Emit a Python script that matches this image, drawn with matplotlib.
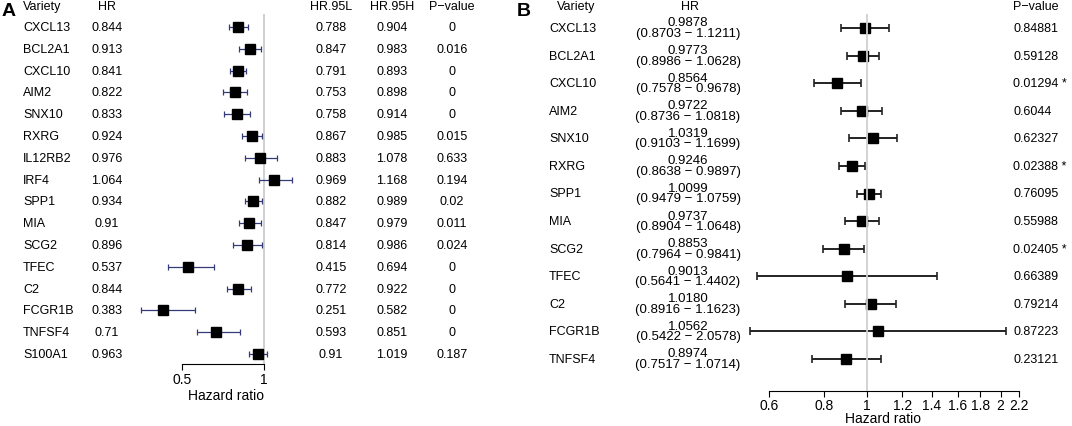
import numpy as np
import matplotlib
matplotlib.use('Agg')
import matplotlib.pyplot as plt
from matplotlib import transforms

plt.rcParams['font.family'] = ['Liberation Sans', 'DejaVu Sans']

# panel A: univariate cox
genes_a = ['CXCL13', 'BCL2A1', 'CXCL10', 'AIM2', 'SNX10', 'RXRG', 'IL12RB2', 'IRF4',
           'SPP1', 'MIA', 'SCG2', 'TFEC', 'C2', 'FCGR1B', 'TNFSF4', 'S100A1']
hr_a = [0.844, 0.913, 0.841, 0.822, 0.833, 0.924, 0.976, 1.064,
        0.934, 0.91, 0.896, 0.537, 0.844, 0.383, 0.71, 0.963]
lo_a = [0.788, 0.847, 0.791, 0.753, 0.758, 0.867, 0.883, 0.969,
        0.882, 0.847, 0.814, 0.415, 0.772, 0.251, 0.593, 0.91]
hi_a = [0.904, 0.983, 0.893, 0.898, 0.914, 0.985, 1.078, 1.168,
        0.989, 0.979, 0.986, 0.694, 0.922, 0.582, 0.851, 1.019]
p_a = ['0', '0.016', '0', '0', '0', '0.015', '0.633', '0.194',
       '0.02', '0.011', '0.024', '0', '0', '0', '0', '0.187']

# panel B: multivariate cox
genes_b = ['CXCL13', 'BCL2A1', 'CXCL10', 'AIM2', 'SNX10', 'RXRG', 'SPP1',
           'MIA', 'SCG2', 'TFEC', 'C2', 'FCGR1B', 'TNFSF4']
hr_b = [0.9878, 0.9773, 0.8564, 0.9722, 1.0319, 0.9246, 1.0099,
        0.9737, 0.8853, 0.9013, 1.0180, 1.0562, 0.8974]
lo_b = [0.8703, 0.8986, 0.7578, 0.8736, 0.9103, 0.8638, 0.9479,
        0.8904, 0.7964, 0.5641, 0.8916, 0.5422, 0.7517]
hi_b = [1.1211, 1.0628, 0.9678, 1.0818, 1.1699, 0.9897, 1.0759,
        1.0648, 0.9841, 1.4402, 1.1623, 2.0578, 1.0714]
p_b = ['0.84881', '0.59128', '0.01294 *', '0.6044', '0.62327', '0.02388 *', '0.76095',
       '0.55988', '0.02405 *', '0.66389', '0.79214', '0.87223', '0.23121']
ticks_b = [0.6, 0.8, 1, 1.2, 1.4, 1.6, 1.8, 2, 2.2]

W, H = 1072, 427
fig = plt.figure(figsize=(W / 100, H / 100), dpi=100)


def px_axes(left, top, right, bottom):
    return fig.add_axes([left / W, 1 - bottom / H, (right - left) / W, (bottom - top) / H])


def clean(ax):
    for s in ['left', 'top', 'right']:
        ax.spines[s].set_visible(False)
    ax.set_yticks([])
    ax.tick_params(axis='x', length=4, width=0.8, pad=2, labelsize=10)
    ax.minorticks_off()
    ax.patch.set_alpha(0)


# ---- A ----
axA = px_axes(140, 15, 300, 365)
axA.set_xlim(0.5 + (140 - 182) / 164, 0.5 + (300 - 182) / 164)
axA.set_ylim((365 - 28) / 21.8, (15 - 28) / 21.8)
ya = np.arange(len(genes_a))
hr = np.array(hr_a)
axA.axvline(1, color='#c8c8c8', lw=1.2, zorder=0)
eb = axA.errorbar(hr, ya, xerr=[hr - np.array(lo_a), np.array(hi_a) - hr], fmt='none',
                  ecolor='#353a78', elinewidth=0.9, capsize=2, capthick=0.9)
for art in eb.get_children():
    art.set_clip_on(False)
axA.plot(hr, ya, 's', color='black', ms=6.5, clip_on=False, zorder=3)
clean(axA)
axA.spines['bottom'].set_bounds(0.5, 1)
axA.set_xticks([0.5, 1])
axA.set_xticklabels(['0.5', '1'])
axA.set_xlabel('Hazard ratio', fontsize=10, labelpad=1)
axA.xaxis.label.set_x((226 - 140) / 160)

trA = transforms.blended_transform_factory(fig.transFigure, axA.transData)
hy = (7 - 28) / 21.8
fs = 9
axA.text(23 / W, hy, 'Variety', transform=trA, ha='left', va='center', fontsize=fs)
axA.text(107 / W, hy, 'HR', transform=trA, ha='center', va='center', fontsize=fs)
axA.text(331 / W, hy, 'HR.95L', transform=trA, ha='center', va='center', fontsize=fs)
axA.text(392 / W, hy, 'HR.95H', transform=trA, ha='center', va='center', fontsize=fs)
axA.text(452 / W, hy, 'P\u2212value', transform=trA, ha='center', va='center', fontsize=fs)
for i in range(len(genes_a)):
    axA.text(23 / W, i, genes_a[i], transform=trA, ha='left', va='center', fontsize=fs)
    axA.text(107 / W, i, str(hr_a[i]), transform=trA, ha='center', va='center', fontsize=fs)
    axA.text(331 / W, i, str(lo_a[i]), transform=trA, ha='center', va='center', fontsize=fs)
    axA.text(392 / W, i, str(hi_a[i]), transform=trA, ha='center', va='center', fontsize=fs)
    axA.text(452 / W, i, p_a[i], transform=trA, ha='center', va='center', fontsize=fs)

# ---- B ----
axB = px_axes(769, 15, 1019, 392)
axB.set_xscale('log')
axB.set_xlim(0.6, 2.2)
step = (360 - 29) / 12
axB.set_ylim((392 - 29) / step, (15 - 29) / step)
yb = np.arange(len(genes_b))
hb = np.array(hr_b)
eb = axB.errorbar(hb, yb, xerr=[hb - np.array(lo_b), np.array(hi_b) - hb], fmt='none',
                  ecolor='#222222', elinewidth=1.4, capsize=3, capthick=1.2)
for art in eb.get_children():
    art.set_clip_on(False)
axB.plot(hb, yb, 's', color='black', ms=7.2, clip_on=False, zorder=3)
axB.axvline(1, color='#d0d0d0', lw=1.3, zorder=4)
clean(axB)
axB.set_xticks(ticks_b)
axB.set_xticklabels([f'{t:g}' for t in ticks_b])
axB.minorticks_off()
axB.tick_params(axis='x', pad=1)
axB.set_xlabel('Hazard ratio', fontsize=10, labelpad=-1)
axB.xaxis.label.set_x((883 - 769) / 250)

trB = transforms.blended_transform_factory(fig.transFigure, axB.transData)
hy = (7 - 29) / step
axB.text(557 / W, hy, 'Variety', transform=trB, ha='left', va='center', fontsize=fs)
axB.text(690 / W, hy, 'HR', transform=trB, ha='center', va='center', fontsize=fs)
axB.text(1013 / W, hy, 'P\u2212value', transform=trB, ha='left', va='center', fontsize=fs)
for i in range(len(genes_b)):
    axB.text(549 / W, i, genes_b[i], transform=trB, ha='left', va='center', fontsize=fs)
    axB.text(688 / W, i - 0.2, f'{hr_b[i]:.4f}', transform=trB, ha='center', va='center', fontsize=9.5)
    axB.text(688 / W, i + 0.18, f'({lo_b[i]:.4f} \u2212 {hi_b[i]:.4f})', transform=trB,
             ha='center', va='center', fontsize=9.5)
    axB.text(1013 / W, i, p_b[i], transform=trB, ha='left', va='center', fontsize=fs)

fig.text(2 / W, 1 - 12 / H, 'A', fontsize=14, fontweight='bold', va='center', ha='left')
fig.text(517 / W, 1 - 12 / H, 'B', fontsize=14, fontweight='bold', va='center', ha='left')

fig.savefig('out.png', dpi=100)
